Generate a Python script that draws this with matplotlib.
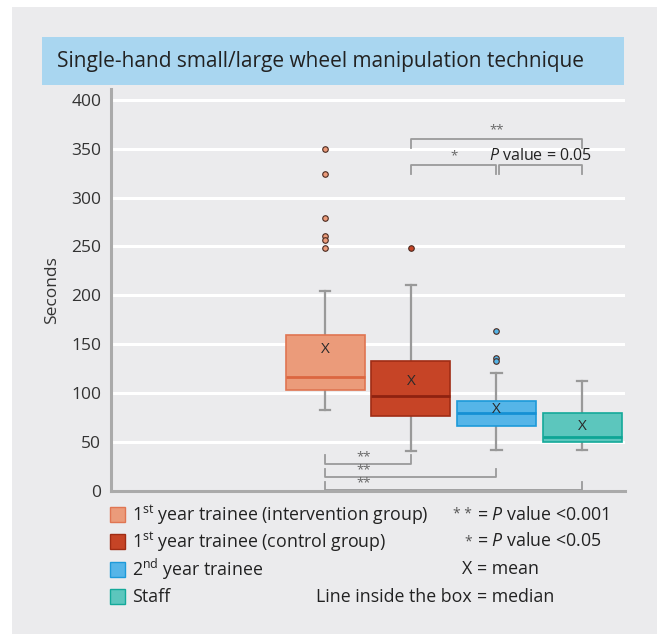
import matplotlib
matplotlib.use("Agg")
import matplotlib.pyplot as plt
from matplotlib.patches import Rectangle

plt.rcParams['font.family'] = ['Open Sans', 'DejaVu Sans']
plt.rcParams['mathtext.fontset'] = 'custom'
plt.rcParams['mathtext.rm'] = 'Open Sans'
plt.rcParams['mathtext.it'] = 'Open Sans:italic'

# data (seconds)
groups = ["1st year trainee (intervention group)", "1st year trainee (control group)",
          "2nd year trainee", "Staff"]
positions = [3, 4, 5, 6]
q1 = [103, 77, 66.5, 50]
med = [117, 97.5, 80, 55.5]
q3 = [159, 133, 92, 79.5]
whislo = [83, 41, 42, 42]
whishi = [204, 211, 121, 112]
means = [145, 111.5, 83.6, 66]
fliers = [[350, 324, 279, 261, 257, 248], [248], [164, 136, 133], []]

fill_colors = ["#eb9b7a", "#c64426", "#55b5e8", "#5cc6bd"]
edge_colors = ["#e07552", "#a02c14", "#1d9ad9", "#14a99a"]
med_colors = ["#dc6640", "#8e2210", "#1590d4", "#0ea595"]

# significance brackets: (x1, x2, y, tick length, label)
top_brackets = [(4, 6, 360, -9, "**"), (4, 5, 333, -9, "*"), (5.03, 6, 333, -9, "")]
bottom_brackets = [(3, 4, 27.5, 9.5, "**"), (3, 5, 14, 8.5, "**"), (3, 6, 1, 8.5, "**")]

bg = "#ebebed"
fig = plt.figure(figsize=(6.57, 6.34), dpi=100, facecolor="white")
fig.patches.append(Rectangle((12 / 657, 0), 1, 1 - 7 / 634, transform=fig.transFigure,
                             facecolor=bg, edgecolor="none", zorder=-10))
# title band
fig.patches.append(Rectangle((42 / 657, 1 - 85 / 634), 582 / 657, 48 / 634,
                             transform=fig.transFigure, facecolor="#a9d6f0",
                             edgecolor="none", zorder=-5))
fig.text(57 / 657, 1 - 62 / 634, "Single-hand small/large wheel manipulation technique",
         fontsize=15, color="#222222", va="center", ha="left")

ax = fig.add_axes([111 / 657, 143 / 634, 514 / 657, 402 / 634])
ax.set_facecolor(bg)

stats = []
for i in range(len(groups)):
    stats.append(dict(med=med[i], q1=q1[i], q3=q3[i], whislo=whislo[i],
                      whishi=whishi[i], fliers=fliers[i], mean=means[i]))

bp = ax.bxp(stats, positions=positions, widths=0.92, patch_artist=True,
            showfliers=True, showmeans=False, manage_ticks=False,
            whiskerprops=dict(color="#999999", lw=1.6),
            capprops=dict(color="#999999", lw=1.6),
            capwidths=0.12)
for i, box in enumerate(bp["boxes"]):
    box.set_facecolor(fill_colors[i])
    box.set_edgecolor(edge_colors[i])
    box.set_linewidth(1.2)
    box.set_zorder(3)
for i, m in enumerate(bp["medians"]):
    m.set_color(med_colors[i])
    m.set_linewidth(2)
    m.set_zorder(4)
for i, f in enumerate(bp["fliers"]):
    f.set_marker("o")
    f.set_markersize(4)
    f.set_markerfacecolor(fill_colors[i])
    f.set_markeredgecolor("#4a2a20")
    f.set_markeredgewidth(0.8)
for i in range(len(groups)):
    ax.text(positions[i], means[i], "X", ha="center", va="center",
            fontsize=11, color="#2a2a2a", zorder=5)

for x1, x2, y, d, lab in top_brackets + bottom_brackets:
    ax.plot([x1, x1, x2, x2], [y + d, y, y, y + d], color="#9a9a9a", lw=1.3,
            zorder=2, clip_on=False)
for x1, x2, y, d, lab in top_brackets:
    if lab:
        ax.text((x1 + x2) / 2, y + 3, lab, ha="center", va="bottom",
                fontsize=9.5, color="#666666")
ax.text(5.52, 343, r"$\mathit{P}$ value = 0.05", ha="center", va="center",
        fontsize=11.5, color="#222222")
for x1, x2, y, d, lab in bottom_brackets:
    ax.text(3.45, y + 1, lab, ha="center", va="bottom", fontsize=9.5, color="#666666")

ax.set_xlim(0.5, 6.5)
ax.set_ylim(0, 411)
ax.set_yticks(range(0, 401, 50))
ax.set_xticks([])
ax.yaxis.grid(True, color="white", lw=2.2)
ax.set_axisbelow(True)
ax.tick_params(axis="y", length=0, labelsize=12.5, labelcolor="#333333", pad=7)
for s in ["top", "right"]:
    ax.spines[s].set_visible(False)
for s in ["left", "bottom"]:
    ax.spines[s].set_color("#aaaaaa")
    ax.spines[s].set_linewidth(2.2)
ax.set_ylabel("Seconds", fontsize=12.5, color="#333333", labelpad=8)

# legend
labels = [r"1$^{\mathrm{st}}$ year trainee (intervention group)",
          r"1$^{\mathrm{st}}$ year trainee (control group)",
          r"2$^{\mathrm{nd}}$ year trainee", "Staff"]
key_left = ["* *", "*", "X", "Line inside the box"]
key_right = [r"= $\mathit{P}$ value <0.001", r"= $\mathit{P}$ value <0.05", "= mean", "= median"]
rows_y = [514.6, 541.5, 569, 596.6]
for i in range(len(groups)):
    yf = 1 - rows_y[i] / 634
    fig.patches.append(Rectangle((110 / 657, yf - 7.5 / 634), 15 / 657, 15 / 634,
                                 transform=fig.transFigure, facecolor=fill_colors[i],
                                 edgecolor=edge_colors[i], lw=1))
    fig.text(132 / 657, yf, labels[i], fontsize=12.8, color="#222222", va="center")
    fig.text(472 / 657, yf, key_left[i], fontsize=12.8 if i > 1 else 10,
             color="#222222" if i > 1 else "#555555", va="center", ha="right")
    fig.text(477 / 657, yf, key_right[i], fontsize=12.8, color="#222222", va="center")

fig.savefig("out.png", dpi=100, facecolor=fig.get_facecolor())
